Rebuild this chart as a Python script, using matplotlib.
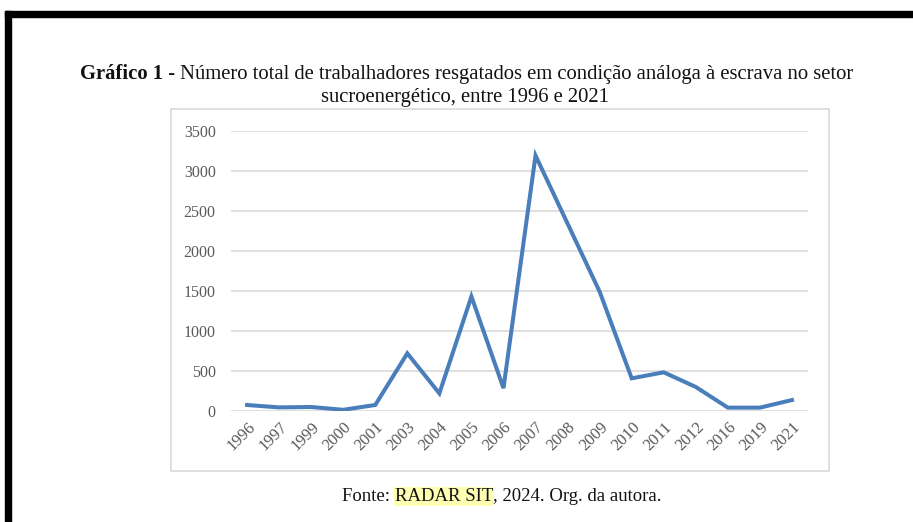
import numpy as np
import matplotlib.pyplot as plt
from matplotlib.patches import Rectangle

# dados
anos = ['1996', '1997', '1999', '2000', '2001', '2003', '2004', '2005', '2006',
        '2007', '2008', '2009', '2010', '2011', '2012', '2016', '2019', '2021']
resgatados = [75, 45, 50, 15, 75, 720, 220, 1430, 285,
              3190, 2340, 1490, 408, 483, 300, 42, 42, 137]
yticks = [0, 500, 1000, 1500, 2000, 2500, 3000, 3500]

W, H = 913, 522
fig = plt.figure(figsize=(W / 100, H / 100), dpi=100)
plt.rcParams['font.family'] = ['Liberation Serif', 'DejaVu Serif']

# moldura preta do documento
fig.patches.append(Rectangle((5 / W, 0), 6 / W, 1 - 11 / H, transform=fig.transFigure,
                             color='black', zorder=5))
fig.patches.append(Rectangle((5 / W, 1 - 17 / H), 1, 6 / H, transform=fig.transFigure,
                             color='black', zorder=5))
# caixa do grafico
fig.patches.append(Rectangle((171 / W, 1 - 471 / H), 658 / W, 362 / H, transform=fig.transFigure,
                             facecolor='white', edgecolor='#d9d9d9', lw=1.2, zorder=-1))

ax = fig.add_axes([231 / W, 1 - 411 / H, 577 / W, 280.3 / H])
x = np.arange(len(anos))
ax.plot(x, resgatados, color='#4a7ebb', lw=2.9, solid_joinstyle='miter', zorder=3)
ax.set_xlim(-0.5, len(anos) - 0.5)
ax.set_ylim(0, 3500)
ax.set_yticks(yticks)
ax.set_xticks(x)
ax.set_xticklabels(anos, rotation=45, ha='right', rotation_mode='anchor')
ax.tick_params(length=0, labelcolor='#595959')
ax.tick_params(axis='y', pad=11, labelsize=11.5)
ax.tick_params(axis='x', pad=6, labelsize=12)
ax.grid(axis='y', color='#d9d9d9', lw=1.2)
ax.set_axisbelow(True)
for s in ax.spines.values():
    s.set_visible(False)
ax.patch.set_alpha(0)

# titulo
t1 = fig.text(80 / W, 1 - 79 / H, 'Gráfico 1 - ', fontsize=14.9, fontweight='bold',
              va='baseline', color='#111111')
fig.add_artist(plt.Annotation(
    'Número total de trabalhadores resgatados em condição análoga à escrava no setor',
    xy=(1, 0), xycoords=t1, va='bottom', fontsize=14.9, color='#111111'))
fig.text(465 / W, 1 - 102 / H, 'sucroenergético, entre 1996 e 2021', fontsize=14.9,
         ha='center', va='baseline', color='#111111')

# fonte
f1 = fig.text(342 / W, 1 - 501 / H, 'Fonte: ', fontsize=13.5, va='baseline', color='#111111')
f2 = fig.add_artist(plt.Annotation('RADAR SIT', xy=(1, 0), xycoords=f1, va='bottom',
                                   fontsize=13.5, color='#111111',
                                   bbox=dict(boxstyle='square,pad=0.05', fc='#ffffb3', ec='none')))
fig.add_artist(plt.Annotation(', 2024. Org. da autora.', xy=(1, 0), xycoords=f2,
                              va='bottom', fontsize=13.5, color='#111111'))

fig.savefig('out.png', dpi=100, facecolor='white')
